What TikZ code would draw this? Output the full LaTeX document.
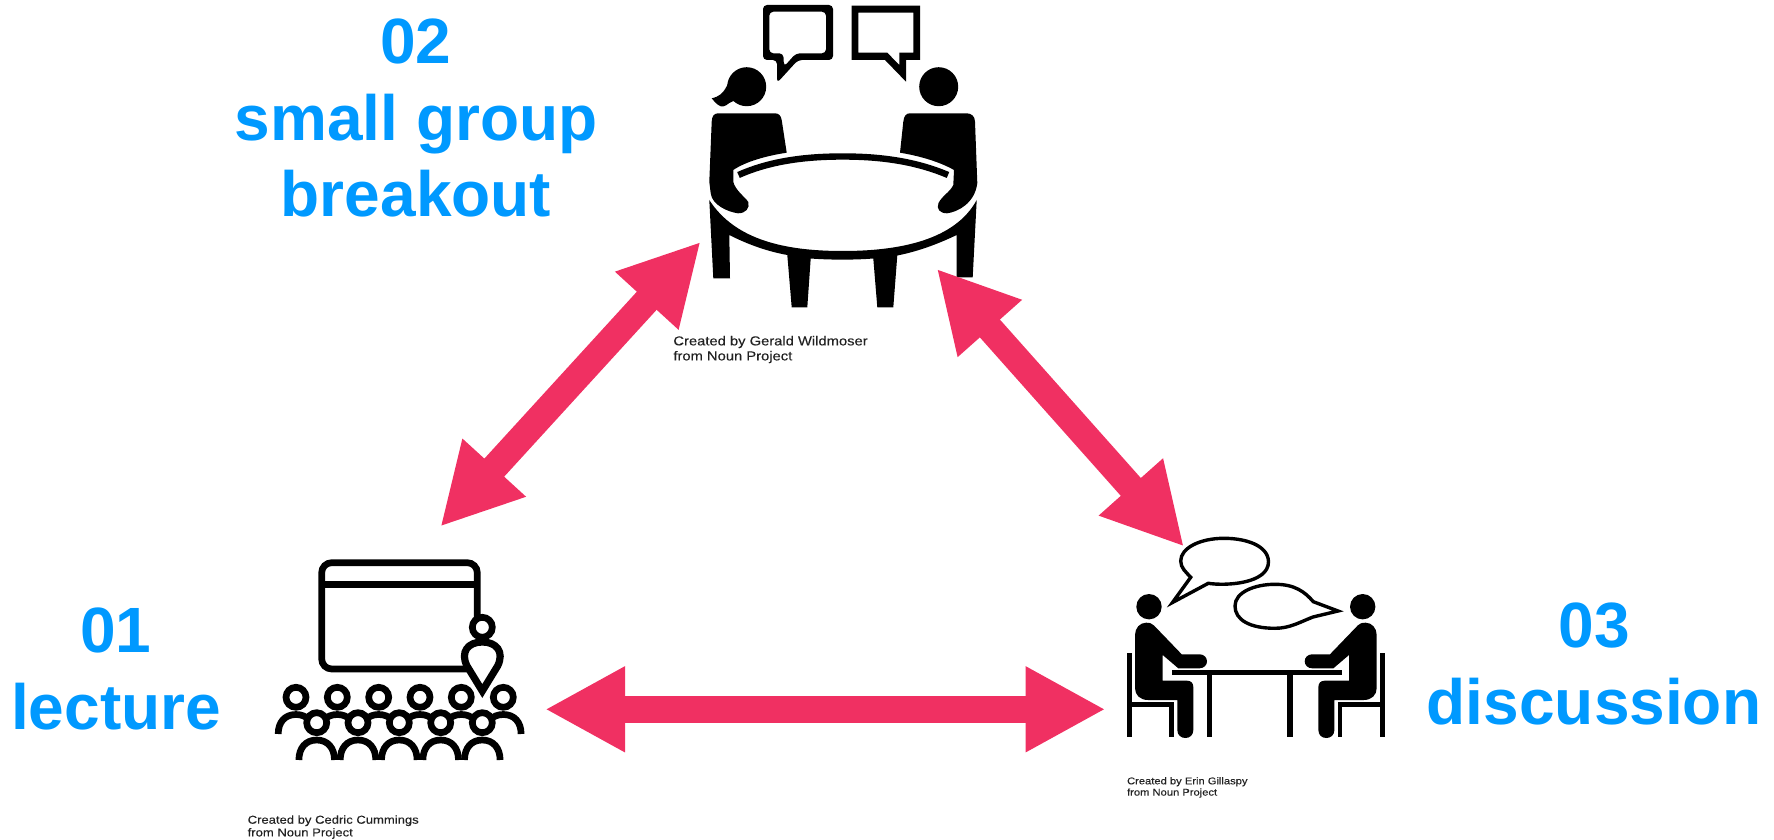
\documentclass[tikz,border=0pt]{standalone}
\usepackage{fontspec}
\setmainfont{Liberation Sans}
\newfontfamily\creditfont[FakeStretch=1.14,FakeBold=0.25]{Liberation Sans}
\usetikzlibrary{arrows.meta}
\definecolor{labelblue}{HTML}{0099FF}
\definecolor{arrowpink}{HTML}{F03062}
\definecolor{credit}{HTML}{222222}
\tikzset{
  heading/.style={text=labelblue,font=\bfseries\fontsize{32}{38.2}\selectfont,align=center,inner sep=0pt},
  creditnote/.style={text=credit,align=left,inner sep=0pt,anchor=north west},
  flowarrow/.style={draw=arrowpink,line width=13.4pt,{Triangle[length=40pt,width=40pt]}-{Triangle[length=40pt,width=40pt]}},
  ink/.style={fill=black,draw=none},
  ringhead/.style={draw=black,fill=white,line width=3.35pt},
  iconline/.style={draw=black,line width=3.35pt},
  thinline/.style={draw=black,line width=1.7pt,line join=miter,miter limit=10},
}
\newcommand{\seatedperson}{%
  \fill[black] (1135,635) .. controls (1135,628) and (1140,622.7) .. (1146,622.7) .. controls (1150,622.7) and (1152,623.5) .. (1154,625.5) -- (1181.7,654.3) -- (1199.5,654.3) .. controls (1204,654.3) and (1207,657.5) .. (1207,661.3) .. controls (1207,665) and (1204,668.3) .. (1199.5,668.3) -- (1178.3,668.3) -- (1162.7,655) -- (1162.7,680.7) -- (1187,680.7) .. controls (1191,680.7) and (1193.3,683) .. (1193.3,687) -- (1193.3,730) .. controls (1193.3,735) and (1190,738) .. (1185.3,738) .. controls (1181,738) and (1177.3,735) .. (1177.3,730) -- (1177.3,700) -- (1148,700) .. controls (1140,700) and (1135,695) .. (1135,688) -- cycle;
  \fill[black] (1149,606.7) circle[radius=12.7];
  \fill[black] (1126.7,653.3) rectangle (1131.7,736.7);
  \fill[black] (1131.7,701.7) rectangle (1174,706.7);
  \fill[black] (1169.3,704) rectangle (1174,736.7);
}
\begin{document}
\begin{tikzpicture}[x=0.5pt,y=-0.5pt]
\useasboundingbox (0,0) rectangle (1774,840);

% ---------- small group icon ----------
\fill[ink,even odd rule,rounded corners=2pt]
  (763,5) -- (833,5) -- (833,60) -- (798,60) -- (777,83) -- (777,60) -- (763,60) -- cycle
  (769.3,11.7) -- (769.3,53.3) -- (783.3,53.3) -- (784,66.7) -- (796,53.3) -- (826,53.3) -- (826,11.7) -- cycle;
\fill[ink,even odd rule]
  (851.7,5.7) -- (920,5.7) -- (920,60) -- (906,60) -- (906,81.7) -- (885,60) -- (851.7,60) -- cycle
  (858.3,12.7) -- (858.3,52.7) -- (887.3,52.7) -- (899.3,65) -- (899.3,52.7) -- (913.3,52.7) -- (913.3,12.7) -- cycle;
\fill[ink] (746.7,86.7) circle[radius=19.5];
\fill[ink] (733.3,75) .. controls (726,83) and (727,95) .. (711.7,98.3) .. controls (716,104) and (720,107) .. (723,106.5) .. controls (728,106) and (729,100) .. (738,101) -- cycle;
\fill[ink] (938.7,86.7) circle[radius=19.5];
\fill[ink] (711.7,121.7) .. controls (712,116) and (714,113.3) .. (718.3,113.3) -- (775,113.3) .. controls (779,113.3) and (781,116) .. (781.7,120) -- (786.7,152.7) .. controls (765,156) and (745,162) .. (733.3,170) -- (733.3,181.7) .. controls (735,190) and (745,197) .. (748.3,202) .. controls (750,208) and (746,213.3) .. (738,213.3) .. controls (728,212) and (712,205) .. (710.7,193.3) -- (709.3,181.7) -- cycle;
\fill[ink] (975,121.7) .. controls (975,116) and (971,113.3) .. (966.7,113.3) -- (910,113.3) .. controls (906,113.3) and (904,116) .. (903.3,121.7) -- (900,152.7) .. controls (920,156) and (940,162) .. (954,170) -- (953.3,185) .. controls (950,192) and (942,196) .. (938.5,203) .. controls (936,209) and (940,213.3) .. (947,213.3) .. controls (958,212) and (975,203) .. (977.3,183) -- cycle;
\draw[draw=black,line width=3.2pt,line cap=butt] (738.5,175) .. controls (770,161) and (805,156.5) .. (842.7,156.5) .. controls (880,156.5) and (915,161) .. (948,175);
\fill[ink] (709.3,200) -- (713.3,278.3) -- (730,278.3) -- (729.3,235) .. controls (745,243) and (765,251) .. (787.3,255) -- (791.7,307.3) -- (807.3,307.3) -- (810.7,258.5) .. controls (830,260) and (855,260) .. (873.3,258.5) -- (877.3,307.3) -- (893.3,307.3) -- (897.3,255.5) .. controls (920,251) and (940,243) .. (956.7,235) -- (956.7,277.3) -- (972.7,277.3) -- (976.7,200) .. controls (955,240) and (900,251) .. (842.7,251) .. controls (785,251) and (735,240) .. (709.3,200) -- cycle;

% ---------- lecture icon ----------
\draw[iconline,rounded corners=5pt] (477.3,620) -- (477.3,562.7) -- (321.7,562.7) -- (321.7,669) -- (470,669);
\draw[iconline] (321.7,584.3) -- (477.3,584.3);
\foreach \hx in {296,337.3,378.7,420,461.3,503.3}{
  \draw[iconline] (\hx-17.8,734) .. controls (\hx-17.8,722) and (\hx-11,714.5) .. (\hx,714.5) .. controls (\hx+11,714.5) and (\hx+17.8,722) .. (\hx+17.8,734);
  \draw[ringhead] (\hx,697.3) circle[radius=10];
}
\foreach \hx in {316.7,358,399.3,440.7,482.3}{
  \draw[ringhead] (\hx,722.7) circle[radius=10];
  \draw[iconline] (\hx-17.8,760) .. controls (\hx-17.8,748) and (\hx-11,740) .. (\hx,740) .. controls (\hx+11,740) and (\hx+17.8,748) .. (\hx+17.8,760);
}
\draw[ringhead] (482.3,627.3) circle[radius=10];
\draw[draw=black,fill=white,line width=3.6pt,miter limit=10] (482.3,691) -- (467,666) .. controls (460,652) and (468,642) .. (482.3,642) .. controls (496.6,642) and (504.6,652) .. (497.6,666) -- cycle;

% ---------- discussion icon ----------
\seatedperson
\begin{scope}[xshift=1255.85pt,xscale=-1]
\seatedperson
\end{scope}
\fill[ink] (1171.7,670) rectangle (1342.3,675.3);
\fill[ink] (1206.7,672) rectangle (1212.3,736.7);
\fill[ink] (1286.7,672) rectangle (1292.7,736.7);
\draw[thinline] (1208.3,583.3) .. controls (1225,586) and (1268.5,584) .. (1268.5,561.7) .. controls (1268,545) and (1245,538.3) .. (1224,538.3) .. controls (1200,538.3) and (1180.7,548) .. (1180.7,561) .. controls (1180.7,568) and (1186,572) .. (1190.7,577.3) -- (1172.5,602.5) -- cycle;
\draw[thinline] (1313.3,601.7) -- (1338,611) -- (1313,617) .. controls (1300,622) and (1290,628.3) .. (1275,628.3) .. controls (1250,628.3) and (1235,620) .. (1235,606) .. controls (1235,592) and (1255,584.3) .. (1275,584.3) .. controls (1295,584.3) and (1305,592) .. (1313.3,601.7) -- cycle;

% ---------- labels ----------
\node[heading] (lab02) at (416,118) {02\\small group\\breakout};
\node[heading] (lab01) at (116,669) {01\\lecture};
\node[heading] (lab03) at (1594,664) {03\\discussion};

% ---------- credits ----------
\node[creditnote,font=\creditfont\fontsize{6.47}{7.5}\selectfont] (credGerald) at (673,335.6) {Created by Gerald Wildmoser\\from Noun Project};
\node[creditnote,font=\creditfont\fontsize{5.72}{6.35}\selectfont] (credCedric) at (247.3,815) {Created by Cedric Cummings\\from Noun Project};
\node[creditnote,font=\creditfont\fontsize{4.9}{5.65}\selectfont] (credErin) at (1126.7,776.8) {Created by Erin Gillaspy\\from Noun Project};

% ---------- connectors ----------
\coordinate (lectureEast) at (545,709.3);
\coordinate (discussWest) at (1105.6,709.3);
\coordinate (lectureNorth) at (440.3,526.7);
\coordinate (groupSW) at (700.7,241.7);
\coordinate (groupSE) at (936.7,268.7);
\coordinate (discussNorth) at (1184,546.7);
\draw[flowarrow] (lectureEast) -- (discussWest);
\draw[flowarrow] (lectureNorth) -- (groupSW);
\draw[flowarrow] (groupSE) -- (discussNorth);
\end{tikzpicture}
\end{document}
